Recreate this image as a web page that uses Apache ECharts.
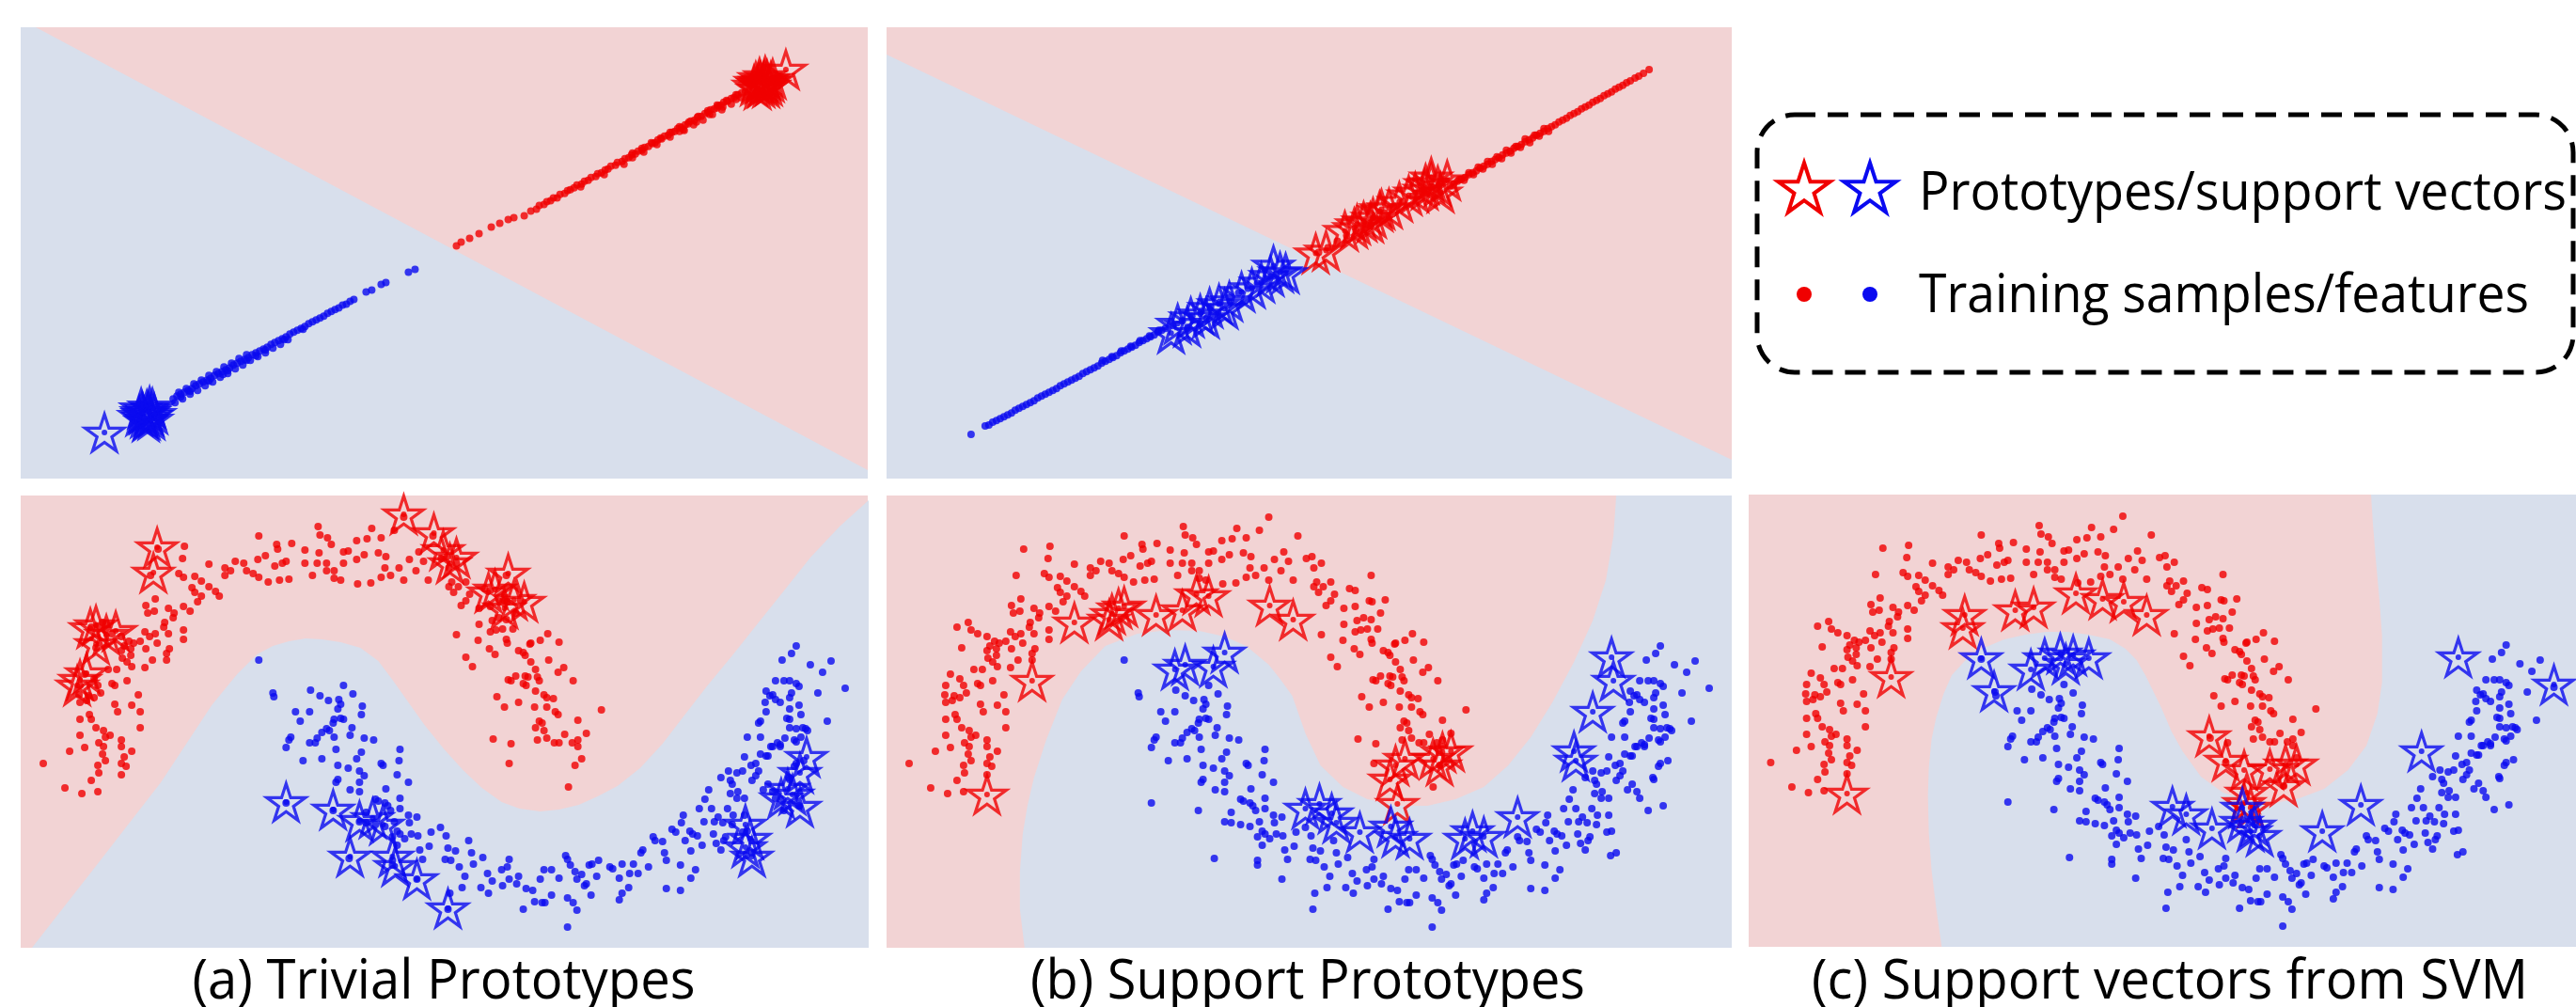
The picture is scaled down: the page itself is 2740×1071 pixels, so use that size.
<!DOCTYPE html>
<html>
<head>
<meta charset="utf-8">
<script src="https://cdn.jsdelivr.net/npm/echarts@6/dist/echarts.min.js"></script>
<style>html,body{margin:0;padding:0;background:#fff;}#c{width:2740px;height:1071px;}</style>
</head>
<body>
<div id="c"></div>
<script>
// ---------- DATA (panel-relative units: x 0..900 left->right, y 0..481 top->bottom) ----------
const regionTopA = [[0,0],[16,0],[900,472],[900,481],[0,481]];
const regionTopB = [[0,29],[900,461],[900,481],[0,481]];

const topA_red = [[463,233],[468,229],[477,225],[487,220],[500,213],[509,209],[518,205],[524,203],[535,201],[542,196],
[548,194],[551,190],[556,189],[559,186],[563,185],[566,182],[570,182],[573,178],[578,177],[581,174],[584,173],[588,171],[591,168],[596,167],[599,164],[603,163],[606,160],[611,159],[613,156],[617,155],[621,152],[624,151],[627,148],[632,147],[634,144],[639,143],[642,140],[646,139],[649,136],[653,135],[656,132],[660,131],[663,128],[667,127],[671,124],[674,123],[677,120],[681,119],[684,116],[688,115],[692,112],[695,111],[698,108],[702,107],[706,104],[709,103],[712,100],[716,99],[719,96],[723,95],[727,92],[730,91],[733,88],[737,87],[741,84],[744,83],[747,80],[751,79],[755,76],[758,75],[762,72],[766,70],
[595,170],[620,157],[641,146],[650,139],[662,133],[676,125],[690,117],[700,111],[704,109],[718,101],[732,93],[740,86],[746,85],[760,77],[770,69],
[650,134],[660,129],[670,123],[680,118],[690,112],[700,106],[710,101],[720,95],[730,89],[740,83],[750,78],[760,72],
[705,110],[715,104],[725,99],[735,93],[745,88],[755,82],[765,75]];
const topA_blue = [[419,258],[412,261],[388,272],[383,274],[373,280],[367,282],[354,290],[350,292],
[346,295],[342,296],[338,299],[334,301],[330,303],[326,305],[322,308],[318,310],[314,312],[310,314],[306,316],[302,319],[298,321],[294,323],[290,325],[286,327],[282,330],[278,332],[274,334],[270,336],[266,338],[262,341],[258,343],[254,345],[250,347],[246,349],[242,352],[238,354],[234,356],[230,358],[226,360],[222,363],[218,365],[214,367],[210,369],[206,371],[202,374],[198,376],[194,378],[190,380],[186,382],[182,385],[178,387],[174,389],[170,391],[166,393],[162,396],
[300,322],[280,333],[260,344],[250,350],[240,355],[220,366],[215,370],[200,377],[180,388],[170,394],
[164,400],[172,396],[180,391],[188,387],[196,382],[204,378],[212,373],[220,369],[228,364],[236,360],[244,355],[252,351],[260,347],[268,342],[276,338],[284,333],
[168,389],[176,385],[184,380],[192,376],[200,371],[208,367],[216,362],[224,358],[232,353],[240,349]];
const topA_redStars = [[781,58],[785,54],[789,60],[793,56],[787,64],[783,66],[795,62],[791,52],[797,58],[779,62],[786,58],[792,64],[799,55],[784,60],[790,57],[813,45]];
const topA_blueStars = [[130,412],[134,408],[138,414],[134,418],[128,406],[140,406],[136,410],[131,416],[142,412],[126,414],[137,404],[133,420],[139,418],[129,410],[89,432]];

const topB_red = [[812,45],[806,49],[801,52],[797,54],
[792,57],[788,59],[784,62],[780,64],[776,66],[772,69],[768,71],[764,73],[760,76],[756,78],[752,80],[748,83],[744,85],[740,87],[736,90],[732,92],[728,94],[724,97],[720,99],[716,101],[712,104],[708,106],[704,108],[700,111],[696,113],[692,115],[688,118],[684,120],[680,122],[676,125],[672,127],[668,129],[664,132],[660,134],[656,136],[652,139],[648,141],[644,143],[640,146],[636,148],[632,150],[628,153],[624,155],[620,157],[616,160],[612,162],[608,164],[604,167],[600,169],
[700,108],[690,115],[680,119],[670,127],[660,131],[650,138],[640,143],[630,149],[620,155],[610,162],
[705,111],[695,116],[685,123],[675,128],[665,134],[655,140],[645,146],[635,151],[625,157],[615,163],
[460,240],[470,235],[480,228],[490,222],[500,217],[510,210],[520,203],[530,198],[540,191],[550,186],[560,180],[570,175],[580,170],[590,166]];
const topB_blue = [[90,434],[105,425],[109,424],[113,421],[117,419],[121,417],[125,415],[129,413],[133,411],[137,408],[141,406],[145,404],[149,402],[153,400],[157,398],[161,395],[165,393],[169,391],[173,389],[177,387],[181,385],[185,382],[189,380],[193,378],[197,376],[201,374],[205,372],[209,369],[213,367],[217,365],[221,363],[225,361],[229,358],[233,356],[237,354],[241,352],[245,350],[249,347],[253,345],[257,343],[261,341],[265,339],[269,336],[273,334],[277,332],[281,330],[285,328],[289,325],[293,323],[297,321],
[230,355],[240,351],[250,345],[260,340],[270,334],[280,329],[290,323],
[305,318],[315,313],[325,308],[335,303],[345,298],[355,293],[365,288],[375,283],[385,278],[395,273],[405,268],[415,263],[425,258]];
const topB_redStars = [[457,241],[468,238],[488,217],[498,214],[501,210],[508,207],[515,208],[518,203],[525,196],[527,194],[535,193],[546,186],[556,179],[563,176],[573,173],[580,166],[587,169],[590,176],[574,167],[580,160],[597,163]];
const topB_blueStars = [[303,326],[310,316],[320,319],[324,309],[334,306],[344,299],[354,295],[365,292],[378,282],[389,278],[399,272],[409,265],[419,261],[412,254],[425,262],[340,310],[360,300]];

const moonRed = [[407,23],[316,33],[373,35],[397,37],[253,43],[318,42],[438,43],[174,54],[146,57],[272,52],[288,51],[357,48],[368,46],[383,45],[326,45],[330,52],[273,57],[302,58],[317,61],[343,60],[348,59],[380,61],[388,65],[172,67],[200,73],[217,77],[228,70],[237,72],[252,68],[260,64],[270,75],[278,72],[282,70],[302,72],[315,72],[325,72],[333,80],[343,72],[357,68],[365,63],[387,77],[402,77],[413,68],[423,60],[428,70],[447,67],[453,65],[463,72],[455,77],[138,85],[168,83],[173,87],[185,86],[192,91],[200,97],[207,102],[211,107],[217,85],[223,80],[240,80],[247,83],[253,87],[263,92],[275,90],[285,89],[310,85],[325,80],[333,88],[340,90],[358,94],[372,93],[383,87],[393,85],[407,90],[420,80],[433,90],[458,92],[465,97],[473,92],[455,97],[460,103],[477,105],[473,112],[468,117],[463,148],[473,172],[480,182],
[182,98],[185,103],[192,107],[188,113],[180,123],[173,118],[163,125],[157,120],[162,130],[153,135],[157,147],[173,143],[173,153],[158,163],[155,168],[145,157],[143,110],[133,117],[135,125],[142,123],[132,145],[137,150],[143,147],[152,140],[127,155],[120,157],[110,160],[107,165],[117,170],[108,173],[113,177],[118,182],[102,185],[93,185],[80,162],[75,140],[87,135],[90,143],[97,147],[107,150],[115,155],[117,163],[133,163],[140,175],[132,183],[155,175],[68,190],[63,202],[78,195],[82,202],[85,210],[72,213],[62,212],[63,220],[70,218],[78,215],[97,200],[100,202],[113,197],[125,212],[100,222],[103,230],[118,223],[127,230],[63,238],[73,233],[75,238],[63,255],[68,268],[80,247],[88,250],[90,257],[95,255],[83,263],[88,267],[87,275],[90,282],[82,287],[83,295],[75,303],[65,317],[47,311],[52,272],[107,260],[107,267],[118,272],[110,278],[107,285],[112,288],[127,247],[82,315],[107,297],[24,285],
[516,85],[493,99],[499,101],[487,120],[499,118],[514,112],[517,113],[531,111],[526,125],[508,130],[516,132],[501,133],[487,137],[499,145],[505,143],[512,142],[523,142],[486,154],[498,163],[504,169],[516,153],[517,157],[529,165],[534,167],[536,170],[541,158],[542,157],[552,154],[560,147],[572,156],[561,175],[547,185],[542,177],[577,183],[571,188],[587,197],[536,192],[539,193],[549,193],[551,197],[518,196],[521,197],[526,192],[534,200],[537,202],[547,208],[556,212],[559,215],[566,216],[506,214],[514,225],[529,220],[546,225],[559,225],[568,230],[571,233],[551,240],[554,242],[547,247],[556,250],[592,239],[617,228],[502,259],[521,264],[549,260],[559,258],[567,263],[572,263],[578,254],[586,263],[592,260],[601,253],[519,285],[582,310],[589,287],[596,280],[592,267]];

const moonBlue = [[253,175],[268,210],[269,214],[292,230],[297,240],[307,230],[308,207],[318,213],[327,218],[338,217],[340,222],[337,227],[353,211],[343,202],[363,224],[362,233],[333,238],[332,242],[340,237],[343,238],[320,252],[325,248],[328,250],[333,257],[315,258],[313,263],[307,263],[287,257],[285,260],[282,268],[300,282],[320,280],[335,270],[350,255],[352,247],[365,258],[375,260],[362,273],[357,280],[337,287],[348,290],[360,293],[365,298],[383,285],[385,287],[337,302],[335,305],[350,313],[360,315],[360,305],[388,312],[282,327],[332,335],[367,337],[377,323],[380,325],[387,327],[390,330],[393,335],[397,347],[360,347],[367,348],[377,350],[387,352],[400,357],[395,363],[403,360],[400,372],[408,365],[413,348],[412,340],[403,333],[403,322],[400,297],[402,282],[403,270],[412,305],[349,386],[395,388],[395,393],[415,360],
[421,342],[422,362],[424,377],[427,387],[434,373],[436,358],[446,353],[452,362],[454,375],[451,387],[456,423],[454,440],[457,388],[462,378],[466,395],[469,417],[472,405],[476,367],[479,380],[481,392],[421,408],
[491,385],[496,402],[501,410],[489,417],[497,423],[511,398],[512,415],[517,395],[519,408],[519,387],[527,413],[529,405],[534,440],[537,418],[544,420],[546,432],[552,408],[554,433],[557,433],[556,398],[564,398],[564,425],[572,407],[579,383],[581,387],[584,393],[581,459],[581,428],[587,433],[591,441],[589,400],[591,408],[596,403],[599,415],[601,413],[606,425],[604,393],[607,392],[612,405],[614,388],[626,395],[629,397],[636,430],[639,423],[636,407],[639,392],[646,417],[647,402],[651,392],[656,402],[659,380],[661,377],[667,395],[672,363],[674,367],[682,368],[686,418],[686,388],[684,380],[692,355],[696,358],[701,393],[701,420],[702,348],[704,340],[706,367],[711,357],[712,378],[712,407],[714,360],[717,398],[719,362],[721,333],[724,372],[726,347],[727,323],[731,313],[734,333],[736,360],[737,347],[739,370],[741,342],[744,377],[746,348],[747,367],[749,363],[751,333],[756,350],[757,340],[761,322],[762,315],[769,322],[769,340],[767,358],[771,383],[772,357],[777,380],[752,293],[744,300],[754,303],[756,307],[754,317],[761,295],[767,293],[769,278],[776,287],[781,285],[781,298],[777,303],[784,293],[786,275],[789,313],[792,277],[794,307],[799,315],[802,322],[799,267],[804,263],[807,267],[811,335],[809,175],[819,168],[824,160],[839,180],[852,188],[861,176],[876,205],[847,210],[857,240],[802,197],[811,197],[817,197],[824,200],[827,203],[792,208],[799,212],[802,217],[807,220],[796,213],[791,220],[792,230],[786,240],[784,242],[772,257],[786,257],[819,210],[817,215],[827,223],[817,227],[814,237],[817,238],[829,233],[817,247],[824,248],[834,248],[831,247],[836,250],[829,257],[822,260],[812,258],[807,265],[797,267],[794,277],[824,262],[832,282],[824,285],[822,288],[816,300],[817,302],[827,330]];

const regionA = [[12,481],[80,394],[149,305],[203,223],[230,190],[251,169],[268,160],[285,155],[303,152],[320,153],[340,156],[361,162],[380,176],[395,196],[412,220],[429,244],[450,270],[470,292],[490,311],[511,326],[530,333],[552,336],[572,334],[593,329],[613,320],[634,309],[658,290],[682,264],[705,234],[729,203],[757,169],[784,135],[812,100],[839,66],[870,33],[901,5],[901,481]];
const regionB = [[147,481],[142,440],[142,400],[145,360],[150,330],[157,300],[170,260],[187,217],[207,187],[233,160],[267,147],[300,143],[333,144],[360,150],[383,160],[407,180],[419,195],[432,213],[446,253],[462,287],[486,310],[512,323],[546,330],[576,330],[606,323],[636,310],[662,287],[686,257],[709,220],[732,177],[752,133],[766,90],[774,43],[777,0],[900,0],[900,481]];
const regionC = [[210,481],[204,440],[199,400],[196,360],[195,320],[196,290],[199,260],[204,237],[212,212],[221,192],[236,176],[256,163],[278,154],[301,149],[324,146],[347,146],[370,149],[393,154],[410,164],[422,176],[432,193],[449,227],[460,252],[472,273],[492,300],[516,317],[542,325],[572,328],[599,323],[626,313],[652,293],[672,267],[684,233],[689,200],[689,150],[686,110],[682,67],[679,30],[677,0],[900,0],[900,481]];

const starsA_red = [[407,20],[439,40],[449,58],[463,66],[456,72],[518,83],[504,100],[524,111],[535,113],[514,120],[497,103],[145,55],[141,82],[80,138],[91,148],[101,144],[74,141],[80,158],[63,196],[70,189],[60,202]];
const starsA_blue = [[282,326],[332,334],[360,346],[374,343],[385,350],[350,384],[395,384],[398,394],[421,408],[454,439],[835,278],[828,295],[815,312],[808,322],[828,331],[820,318],[770,350],[770,374],[777,384],[775,365]];
const starsB_red = [[107,318],[155,197],[200,135],[237,132],[247,120],[253,118],[240,126],[287,127],[315,122],[330,105],[343,107],[408,117],[433,132],[542,287],[552,280],[536,302],[544,328],[582,280],[592,273],[601,272],[589,287]];
const starsB_blue = [[307,185],[318,180],[348,182],[360,167],[446,333],[461,328],[474,338],[479,348],[504,358],[537,352],[542,363],[557,365],[616,365],[624,357],[636,363],[672,342],[772,172],[774,197],[752,230],[732,272],[734,282]];
const starsC_red = [[235,128],[233,142],[290,123],[310,120],[356,105],[385,111],[408,114],[433,128],[155,194],[107,318],[501,257],[519,283],[539,293],[567,292],[584,287],[596,287],[582,310],[542,317],[539,328],[546,333]];
const starsC_blue = [[253,174],[267,209],[307,186],[322,174],[339,169],[353,171],[370,174],[345,180],[461,332],[476,340],[504,355],[536,348],[546,358],[556,363],[537,333],[550,352],[624,358],[666,330],[732,273],[772,173],[876,202]];

const captions = ['(a) Trivial Prototypes', '(b) Support Prototypes', '(c) Support vectors from SVM'];
const legendLabels = ['Prototypes/support vectors', 'Training samples/features'];

// ---------- STYLE ----------
const PINK = '#f2d3d4', BLUEBG = '#d8dfec', RED = '#f00000', BLUE = '#0a0af0';
const STAR_V = [[50,0],[61.2,34.5],[97.6,34.5],[68.2,55.9],[79.4,90.5],[50,69.1],[20.6,90.5],[31.8,55.9],[2.4,34.5],[38.8,34.5]];
const STAR = 'path://M' + STAR_V.map(v => v.join(',')).join('L') + 'Z';
const FONT = '"Open Sans", "Noto Sans", sans-serif';

const grids = [
  {left:22, top:29, width:901, height:480},
  {left:943, top:29, width:899, height:480},
  {left:22, top:527, width:901, height:481},
  {left:943, top:527, width:899, height:481},
  {left:1860, top:526, width:900, height:481}
];
const panels = [
  {region:regionTopA, red:topA_red, blue:topA_blue, rs:topA_redStars, bs:topA_blueStars, dot:8},
  {region:regionTopB, red:topB_red, blue:topB_blue, rs:topB_redStars, bs:topB_blueStars, dot:8},
  {region:regionA, red:moonRed, blue:moonBlue, rs:starsA_red, bs:starsA_blue, dot:8},
  {region:regionB, red:moonRed, blue:moonBlue, rs:starsB_red, bs:starsB_blue, dot:8},
  {region:regionC, red:moonRed, blue:moonBlue, rs:starsC_red, bs:starsC_blue, dot:8}
];

const series = [];
panels.forEach((p, i) => {
  const base = {xAxisIndex:i, yAxisIndex:i, silent:true, animation:false};
  series.push({...base, type:'custom', z:1, data:p.region, encode:{x:0, y:1},
    renderItem:(params, api) => params.dataIndex !== 0 ? null : {
      type:'polygon', shape:{points:p.region.map(q => api.coord(q))}, style:{fill:BLUEBG}
    }});
  series.push({...base, type:'scatter', z:2, data:p.red, symbol:'circle', symbolSize:p.dot, itemStyle:{color:RED}});
  series.push({...base, type:'scatter', z:2, data:p.blue, symbol:'circle', symbolSize:p.dot, itemStyle:{color:BLUE}});
  series.push({...base, type:'scatter', z:3, data:p.rs, symbol:STAR, symbolKeepAspect:true, symbolSize:41,
    itemStyle:{color:'rgba(0,0,0,0)', borderColor:RED, borderWidth:3.2}});
  series.push({...base, type:'scatter', z:3, data:p.rs, symbol:'circle', symbolSize:6, itemStyle:{color:RED}});
  series.push({...base, type:'scatter', z:4, data:p.bs, symbol:STAR, symbolKeepAspect:true, symbolSize:41,
    itemStyle:{color:'rgba(0,0,0,0)', borderColor:BLUE, borderWidth:3.2}});
  series.push({...base, type:'scatter', z:4, data:p.bs, symbol:'circle', symbolSize:6, itemStyle:{color:BLUE}});
});

const mctx = document.createElement('canvas').getContext('2d');
function fitText(str, x, y, targetW, size, align) {
  const font = size + 'px ' + FONT;
  mctx.font = font;
  const w = mctx.measureText(str).width || targetW;
  return {type:'text', x:x, y:y, scaleX:targetW / w, z:20,
    style:{text:str, font:font, fill:'#000', textAlign:align, textVerticalAlign:'middle'}};
}
function legendStar(cx, cy, size, color) {
  const s = size / 100;
  return {type:'polygon', z:20,
    shape:{points:STAR_V.map(v => [cx + (v[0] - 50) * s, cy + (v[1] - 48) * s])},
    style:{fill:'none', stroke:color, lineWidth:4}};
}

const graphic = [
  {type:'rect', z:20, shape:{x:1869, y:122, width:868, height:274, r:40},
   style:{fill:'none', stroke:'#000', lineWidth:5, lineDash:[22,13]}},
  legendStar(1919, 201, 58, RED),
  legendStar(1989, 201, 58, BLUE),
  {type:'circle', z:20, shape:{cx:1919, cy:313, r:8}, style:{fill:RED}},
  {type:'circle', z:20, shape:{cx:1989, cy:313, r:8}, style:{fill:BLUE}},
  fitText(legendLabels[0], 2041, 207, 689, 57, 'left'),
  fitText(legendLabels[1], 2041, 316, 649, 57, 'left'),
  fitText(captions[0], 472, 1045, 535, 58, 'center'),
  fitText(captions[1], 1391, 1045, 590, 58, 'center'),
  fitText(captions[2], 2308, 1045, 762, 58, 'center')
];

const chart = echarts.init(document.getElementById('c'), null, {renderer:'canvas', width:2740, height:1071});
chart.setOption({
  animation:false,
  backgroundColor:'#ffffff',
  grid: grids.map(g => ({...g, show:true, backgroundColor:PINK, borderWidth:0, containLabel:false})),
  xAxis: grids.map((g, i) => ({type:'value', gridIndex:i, min:0, max:900, show:false})),
  yAxis: grids.map((g, i) => ({type:'value', gridIndex:i, min:0, max:481, inverse:true, show:false})),
  series: series,
  graphic: graphic
});
</script>
</body>
</html>
